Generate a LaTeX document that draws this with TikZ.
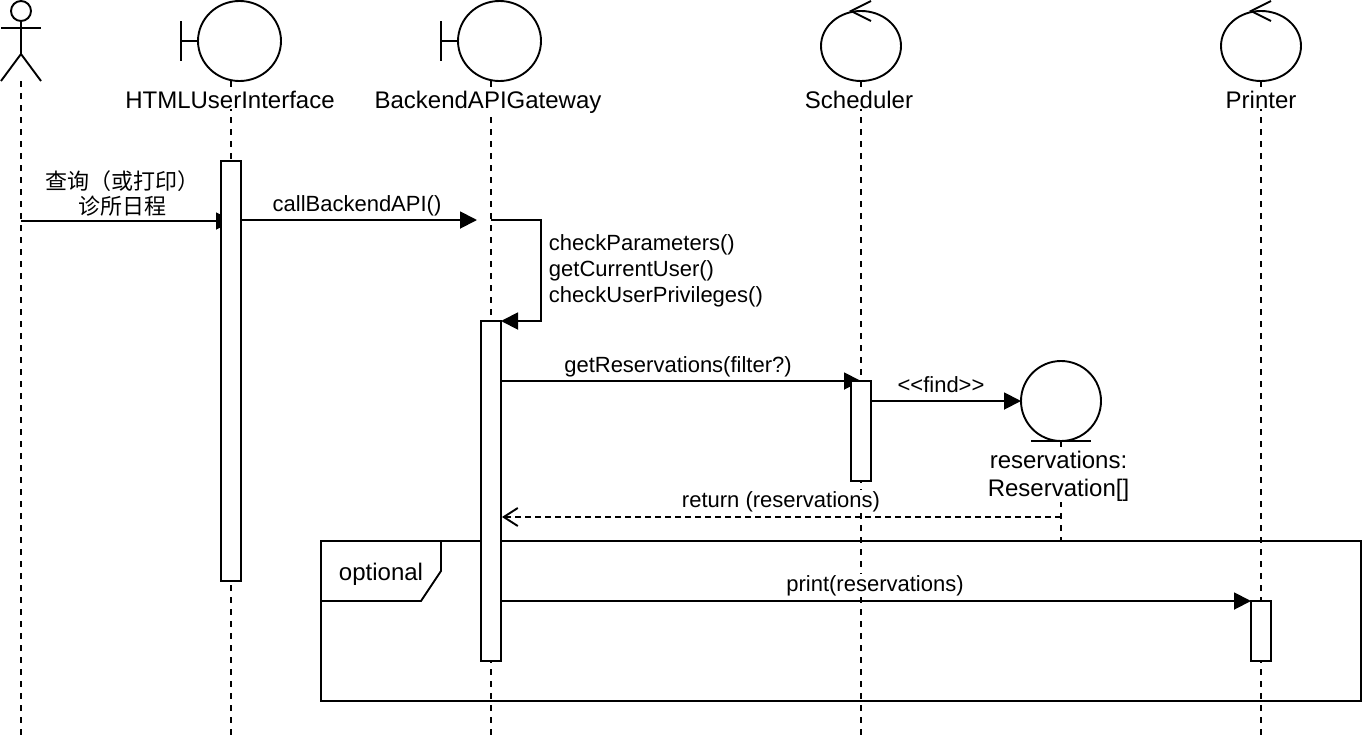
\documentclass[tikz,border=0pt]{standalone}
\usepackage{fontspec}
\setmainfont{Liberation Sans}
\newfontfamily\cjk{Noto Sans CJK SC}
\usetikzlibrary{arrows.meta}
\tikzset{
  x=1pt,y=-1pt,
  every path/.style={line width=1.9pt},
  life/.style={dash pattern=on 6pt off 6pt},
  msg/.style={-{Triangle[length=17pt,width=17pt,fill=black]}},
  ret/.style={dash pattern=on 6pt off 4pt,-{Straight Barb[length=14pt,width=18pt,line width=1.9pt]}},
  bar/.style={draw,fill=white,minimum width=20pt,inner sep=0pt,outer sep=0pt},
  head/.style={font=\fontsize{24}{28}\selectfont,fill=white,inner sep=1pt,align=center,anchor=base},
  lab/.style={font=\fontsize{22}{27}\selectfont,fill=white,inner sep=1pt,align=center,anchor=base},
}
\begin{document}
\begin{tikzpicture}
\useasboundingbox (0,0) rectangle (1362,744);
% end points of the lifelines
\coordinate (a0) at (21,81); \coordinate (a1) at (21,735);
\coordinate (h0) at (231,81); \coordinate (h1) at (231,735);
\coordinate (b0) at (491,81); \coordinate (b1) at (491,735);
\coordinate (s0) at (861,81); \coordinate (s1) at (861,735);
\coordinate (p0) at (1261,81); \coordinate (p1) at (1261,735);
\coordinate (e0) at (1061,441); \coordinate (e1) at (1061,541);
\draw[life] (a0) -- (a1);
\draw[life] (h0) -- (h1);
\draw[life] (b0) -- (b1);
\draw[life] (s0) -- (s1);
\draw[life] (p0) -- (p1);
\draw[life] (e0) -- (e1);
% actor
\node[draw,circle,minimum size=20pt,inner sep=0pt,outer sep=0pt] (actorhead) at (21,11) {};
\coordinate (hip) at (21,54);
\coordinate (armL) at (1,28); \coordinate (armR) at (41,28);
\coordinate (legL) at (1,81); \coordinate (legR) at (41,81);
\draw (actorhead.south) -- (hip);
\draw (armL) -- (armR);
\draw (legL) -- (hip) -- (legR);
% boundary objects
\draw[fill=white] (239.5,41) ellipse [x radius=41.5,y radius=40];
\draw (181,21) -- (181,61) (181,41) -- (198,41);
\draw[fill=white] (499.5,41) ellipse [x radius=41.5,y radius=40];
\draw (441,21) -- (441,61) (441,41) -- (458,41);
% control objects
\draw[fill=white] (861,46) ellipse [x radius=40,y radius=35];
\draw (871,1) -- (851,11) -- (871,21);
\draw[fill=white] (1261,46) ellipse [x radius=40,y radius=35];
\draw (1271,1) -- (1251,11) -- (1271,21);
% entity
\node[draw,circle,fill=white,minimum size=80pt,inner sep=0pt,outer sep=0pt] (entity) at (1061,401) {};
\draw (1031,441) -- (1091,441);
% head labels
\node[head] (lh) at (230,108) {HTMLUserInterface};
\node[head] (lb) at (488,108) {BackendAPIGateway};
\node[head] (ls) at (859,108) {Scheduler};
\node[head] (lp) at (1261,108) {Printer};
\node[head,anchor=center] (le) at (1058.5,476) {reservations:\\[0pt]Reservation[]};
% frame
\draw (321,541) rectangle (1361,701);
\draw (441,541) -- (441,571) -- (421,601) -- (321,601);
\node[head,fill=none] (lo) at (381,580) {optional};
% arrows beneath the activation bars
\coordinate (u0) at (21,221); \coordinate (u1) at (233,221);
\draw[msg] (u0) -- (u1);
\coordinate (g1) at (861,381);
\coordinate (g0) at (501,381);
\draw[msg] (g0) -- (g1);
% activation bars
\node[bar,minimum height=420pt] (barh) at (231,371) {};
\node[bar,minimum height=340pt] (barb) at (491,491) {};
\node[bar,minimum height=100pt] (bars) at (861,431) {};
\node[bar,minimum height=60pt] (barp) at (1261,631) {};
% messages
\coordinate (c0) at (241,220); \coordinate (c1) at (477,220);
\draw[msg] (c0) -- (c1);
\coordinate (l0) at (491,220); \coordinate (l1) at (541,220); \coordinate (l2) at (541,321); \coordinate (l3) at (501,321);
\draw[msg] (l0) -- (l1) -- (l2) -- (l3);
\draw[msg] (bars.east |- 0,401) -- (entity.west);
\coordinate (r0) at (1061,517); \coordinate (r1) at (502,517);
\draw[ret] (r0) -- (r1);
\coordinate (q0) at (501,601); \coordinate (q1) at (1251,601);
\draw[msg] (q0) -- (q1);
% message labels
\node[lab,anchor=center,font=\fontsize{22}{25}\selectfont\cjk,fill=none] (m1) at (122,193) {查询（或打印）\\诊所日程};
\node[lab,fill=none] (m2) at (357,211) {callBackendAPI()};
\node[lab,fill=none,align=left,anchor=west,font=\fontsize{22}{26}\selectfont] (m3) at (547,271) {checkParameters()\\getCurrentUser()\\checkUserPrivileges()};
\node[lab,fill=none] (m4) at (678,372) {getReservations(filter?)};
\node[lab,fill=none] (m5) at (941,392) {<{}<find>{}>};
\node[lab] (m6) at (781,507) {return (reservations)};
\node[lab] (m7) at (875,591) {print(reservations)};
\end{tikzpicture}
\end{document}
